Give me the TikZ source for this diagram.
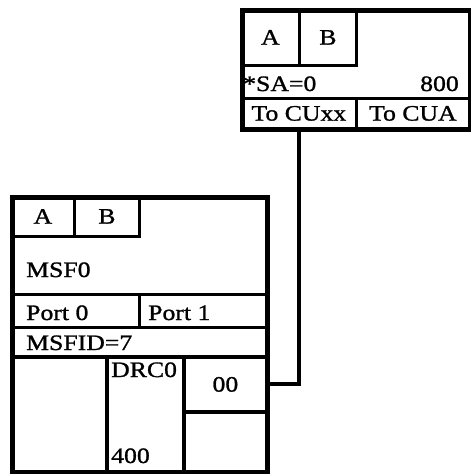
\documentclass[tikz,border=0pt]{standalone}
\usepackage{fontspec}
\setmainfont{Liberation Serif}[FakeStretch=1.17, FakeBold=1.2]
\usetikzlibrary{positioning}

\begin{document}
\begin{tikzpicture}[x=1pt, y=-1pt, font=\fontsize{22}{26}\selectfont,
  frame/.style={draw, rectangle, line width=4.5pt, anchor=north west, inner sep=0pt},
  cell/.style={draw, rectangle, line width=2.8pt, anchor=north west, inner sep=0pt},
  heavy/.style={cell, line width=3.8pt},
  txt/.style={inner sep=0pt},
  link/.style={line width=4pt}]

\useasboundingbox (0,0) rectangle (471,474);

\node[cell, minimum width=58pt, minimum height=56pt] (cuA) at (240,8) {A};
\node[cell, minimum width=57pt, minimum height=56pt] (cuB) at (298,8) {B};
\node[txt, anchor=base west] (sa) at (243,91) {*SA=0};
\node[txt, anchor=base east] (addr) at (459,91) {800};
\node[cell, minimum width=115pt, minimum height=30pt] (toxx) at (240,97) {To CUxx};
\node[cell, minimum width=113pt, minimum height=30pt] (toa) at (355,97) {To CUA};
\node[frame, minimum width=228pt, minimum height=119pt] (cu) at (240,8) {};

\node[cell, minimum width=63pt, minimum height=40pt] (msfA) at (10,195) {A};
\node[cell, minimum width=65pt, minimum height=40pt] (msfB) at (73,195) {B};
\node[txt, anchor=base west] (msf) at (26,277) {MSF0};
\node[cell, minimum width=128pt, minimum height=33pt] (port0) at (10,293) {};
\node[cell, minimum width=127pt, minimum height=33pt] (port1) at (138,293) {};
\node[txt, anchor=base west] (port0txt) at (26,320) {Port 0};
\node[txt, anchor=base west] (port1txt) at (148,320) {Port 1};
\node[cell, minimum width=255pt, minimum height=29pt] (msfid) at (10,326) {};
\node[txt, anchor=base west] (msfidtxt) at (26,350) {MSFID=7};

\node[heavy, minimum width=95pt, minimum height=115pt] (slotL) at (10,355) {};
\node[heavy, minimum width=77pt, minimum height=115pt] (drc) at (105,355) {};
\node[heavy, minimum width=83pt, minimum height=55pt] (slot00) at (182,355) {00};
\node[heavy, minimum width=83pt, minimum height=60pt] (slotR) at (182,410) {};
\node[txt, anchor=base west] (drcname) at (111,377) {DRC0};
\node[txt, anchor=base west] (drcaddr) at (111,463) {400};
\node[frame, minimum width=255pt, minimum height=275pt] (msfbox) at (10,195) {};

\draw[link] (toxx.south) |- (slot00.east);
\end{tikzpicture}
\end{document}
